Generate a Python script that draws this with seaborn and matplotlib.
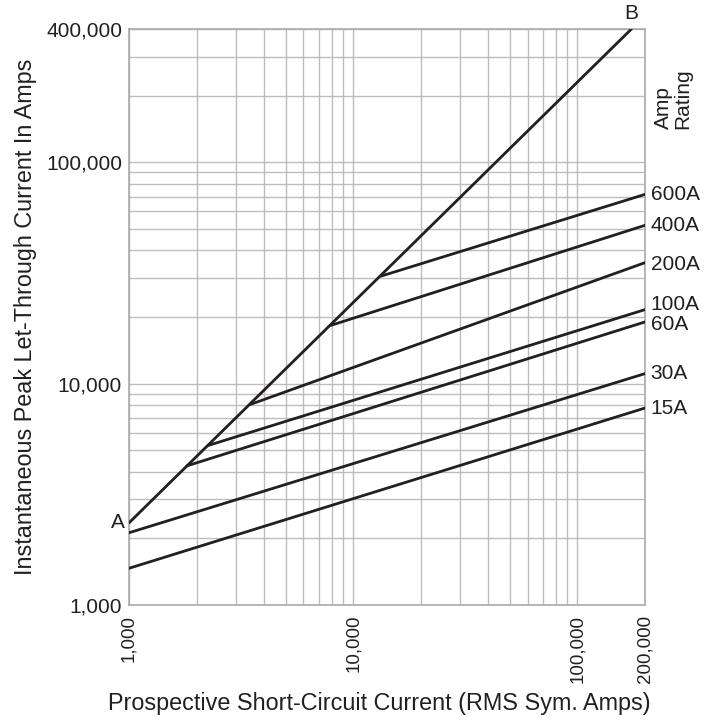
import matplotlib
matplotlib.use("Agg")
import pandas as pd
import matplotlib.pyplot as plt
import seaborn as sns

# curve names, as labelled on the chart
ratings = ["A-B", "600A", "400A", "200A", "100A", "60A", "30A", "15A"]
# each curve is a straight run (log-log) from a start point to an end point
start_current = [1000, 13300, 7900, 3470, 2260, 1810, 1000, 1000]
start_peak = [2350, 30600, 18300, 8050, 5260, 4250, 2120, 1465]
end_current = [174000, 200000, 200000, 200000, 200000, 200000, 200000, 200000]
end_peak = [400000, 71600, 51900, 35200, 21600, 19000, 11100, 7760]

x_ticks = [1000, 10000, 100000, 200000]
x_ticklabels = ["1,000", "10,000", "100,000", "200,000"]
y_ticks = [1000, 10000, 100000, 400000]
y_ticklabels = ["1,000", "10,000", "100,000", "400,000"]
x_grid = [2000, 3000, 4000, 5000, 6000, 7000, 8000, 9000,
          20000, 30000, 40000, 50000, 60000, 70000, 80000, 90000, 100000]
y_grid = [2000, 3000, 4000, 5000, 6000, 7000, 8000, 9000,
          20000, 30000, 40000, 50000, 60000, 70000, 80000, 90000,
          200000, 300000]

rows = []
for r, x0, y0, x1, y1 in zip(ratings, start_current, start_peak, end_current, end_peak):
    rows.append({"rating": r, "current": x0, "peak": y0})
    rows.append({"rating": r, "current": x1, "peak": y1})
df = pd.DataFrame(rows)

sns.set_style("white")
plt.rcParams["font.family"] = ["Liberation Sans", "DejaVu Sans"]
ink = "#231f20"

fig = plt.figure(figsize=(7.16, 7.21), dpi=100)
ax = fig.add_axes([129 / 716, 116 / 721, 516 / 716, 576 / 721])

sns.lineplot(data=df, x="current", y="peak", hue="rating", units="rating",
             estimator=None, sort=False, palette=[ink] * len(ratings),
             linewidth=2.0, legend=False, ax=ax, zorder=3)

ax.set_xscale("log")
ax.set_yscale("log")
ax.set_xlim(1000, 200000)
ax.set_ylim(1000, 400000)

ax.set_xticks(x_ticks)
ax.set_xticklabels(x_ticklabels, rotation=90, fontsize=13.5)
ax.set_yticks(y_ticks)
ax.set_yticklabels(y_ticklabels, fontsize=15)
ax.set_xticks(x_grid, minor=True)
ax.set_yticks(y_grid, minor=True)
ax.tick_params(which="both", length=0, colors=ink)
ax.tick_params(axis="x", pad=7)
ax.tick_params(axis="y", pad=5)
ax.grid(True, which="both", color="#bdbdbf", linewidth=1.0, zorder=0)
ax.set_axisbelow(True)
for sp in ax.spines.values():
    sp.set_color("#aaaaac")
    sp.set_linewidth(1.2)

ax.set_xlabel("Prospective Short-Circuit Current (RMS Sym. Amps)", fontsize=16.8,
              color=ink)
ax.xaxis.set_label_coords(0.4845, -0.1505)
ax.set_ylabel("Instantaneous Peak Let-Through Current In Amps", fontsize=16.8,
              color=ink)
ax.yaxis.set_label_coords(-0.178, 0.5)

# A and B endpoints
ax.annotate("A", (start_current[0], start_peak[0]), xytext=(-3, 0),
            textcoords="offset points", ha="right", va="center", fontsize=15,
            color=ink, annotation_clip=False)
ax.annotate("B", (end_current[0], end_peak[0]), xytext=(0, 4),
            textcoords="offset points", ha="center", va="bottom", fontsize=15,
            color=ink, annotation_clip=False)

# amp rating labels on the right
nudge = {"100A": 4, "60A": -1.5, "200A": -1}
for r, x1, y1 in zip(ratings[1:], end_current[1:], end_peak[1:]):
    ax.annotate(r, (x1, y1), xytext=(4, nudge.get(r, 0)),
                textcoords="offset points", ha="left", va="center",
                fontsize=15, color=ink, annotation_clip=False)

fig.text(673 / 716, 1 - 129 / 721, "Amp\nRating", rotation=90, ha="center",
         va="bottom", multialignment="left", fontsize=15, color=ink,
         linespacing=1.0)

fig.savefig("out.png", dpi=100)
